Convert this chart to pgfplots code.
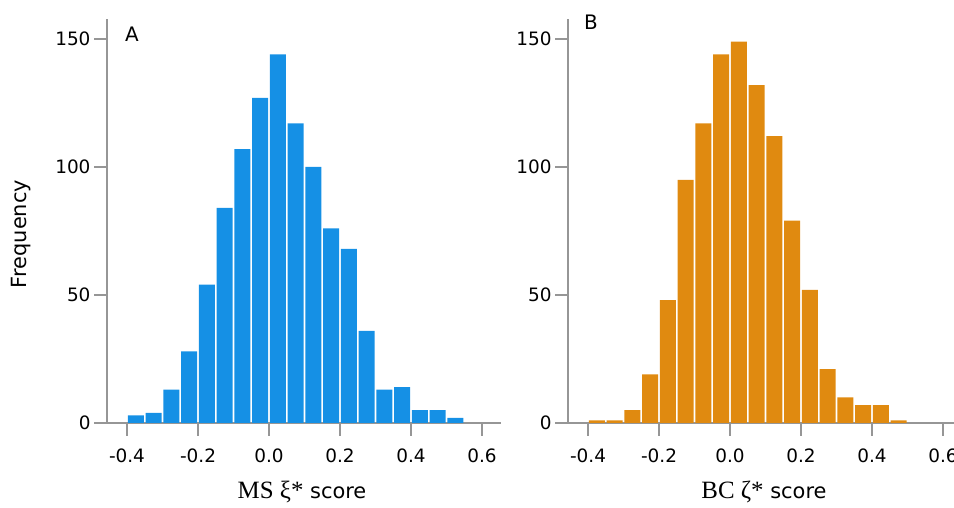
\documentclass[border=0pt]{standalone}
\usepackage{fontspec}
\setmainfont{DejaVu Sans}
\newfontfamily\serifgr{Liberation Serif}
\usepackage{pgfplots}
\usepackage{pgfplotstable}
\pgfplotsset{compat=1.18}
\definecolor{barblue}{RGB}{21,144,229}
\definecolor{barorange}{RGB}{224,138,16}
\definecolor{axgray}{RGB}{150,150,150}

\pgfplotstableread{
x y
-0.375 3
-0.325 4
-0.275 13
-0.225 28
-0.175 54
-0.125 84
-0.075 107
-0.025 127
0.025 144
0.075 117
0.125 100
0.175 76
0.225 68
0.275 36
0.325 13
0.375 14
0.425 5
0.475 5
0.525 2
}\dataA

\pgfplotstableread{
x y
-0.375 1
-0.325 1
-0.275 5
-0.225 19
-0.175 48
-0.125 95
-0.075 117
-0.025 144
0.025 149
0.075 132
0.125 112
0.175 79
0.225 52
0.275 21
0.325 10
0.375 7
0.425 7
0.475 1
}\dataB

\begin{document}
\begin{tikzpicture}[x=1bp,y=1bp]
\pgfplotsset{
  hist/.style={
    scale only axis, anchor=south west,
    height=404bp,
    ymin=0, ymax=157.8,
    xmin=-0.4563,
    axis x line=bottom, axis y line=left,
    axis line style={axgray, line width=1.2bp, -},
    tick style={axgray, line width=1.2bp},
    major tick length=13bp,
    tick align=outside,
    xtick={-0.4,-0.2,0,0.2,0.4,0.6},
    xticklabels={-0.4,-0.2,0.0,0.2,0.4,0.6},
    ytick={0,50,100,150},
    yticklabels={0,50,100,150},
    ticklabel style={font=\fontsize{18.5}{18.5}\selectfont, text=black},
    xticklabel style={yshift=-9bp},
    ybar, bar width=0.045, bar shift=0,
  }
}
\begin{axis}[hist, at={(107bp,85bp)}, width=394bp, xmax=0.6535]
  \addplot[fill=barblue, draw=none] table[x=x, y=y] {\dataA};
\end{axis}
\begin{axis}[hist, at={(568bp,85bp)}, width=407bp, xmax=0.6902]
  \addplot[fill=barorange, draw=none] table[x=x, y=y] {\dataB};
\end{axis}
\node[rotate=90, font=\fontsize{21}{21}\selectfont] at (21,274) {Frequency};
\node[font=\fontsize{20}{20}\selectfont] at (132,474) {A};
\node[font=\fontsize{20}{20}\selectfont] at (591,486) {B};
\node[anchor=base, font=\fontsize{21}{21}\selectfont] at (302,9) {{\serifgr\fontsize{25}{25}\selectfont MS ξ*} score};
\node[anchor=base, font=\fontsize{21}{21}\selectfont] at (764,9) {{\serifgr\fontsize{25}{25}\selectfont BC ζ*} score};
\pgfresetboundingbox
\useasboundingbox (0,0) rectangle (954,508);
\end{tikzpicture}
\end{document}
